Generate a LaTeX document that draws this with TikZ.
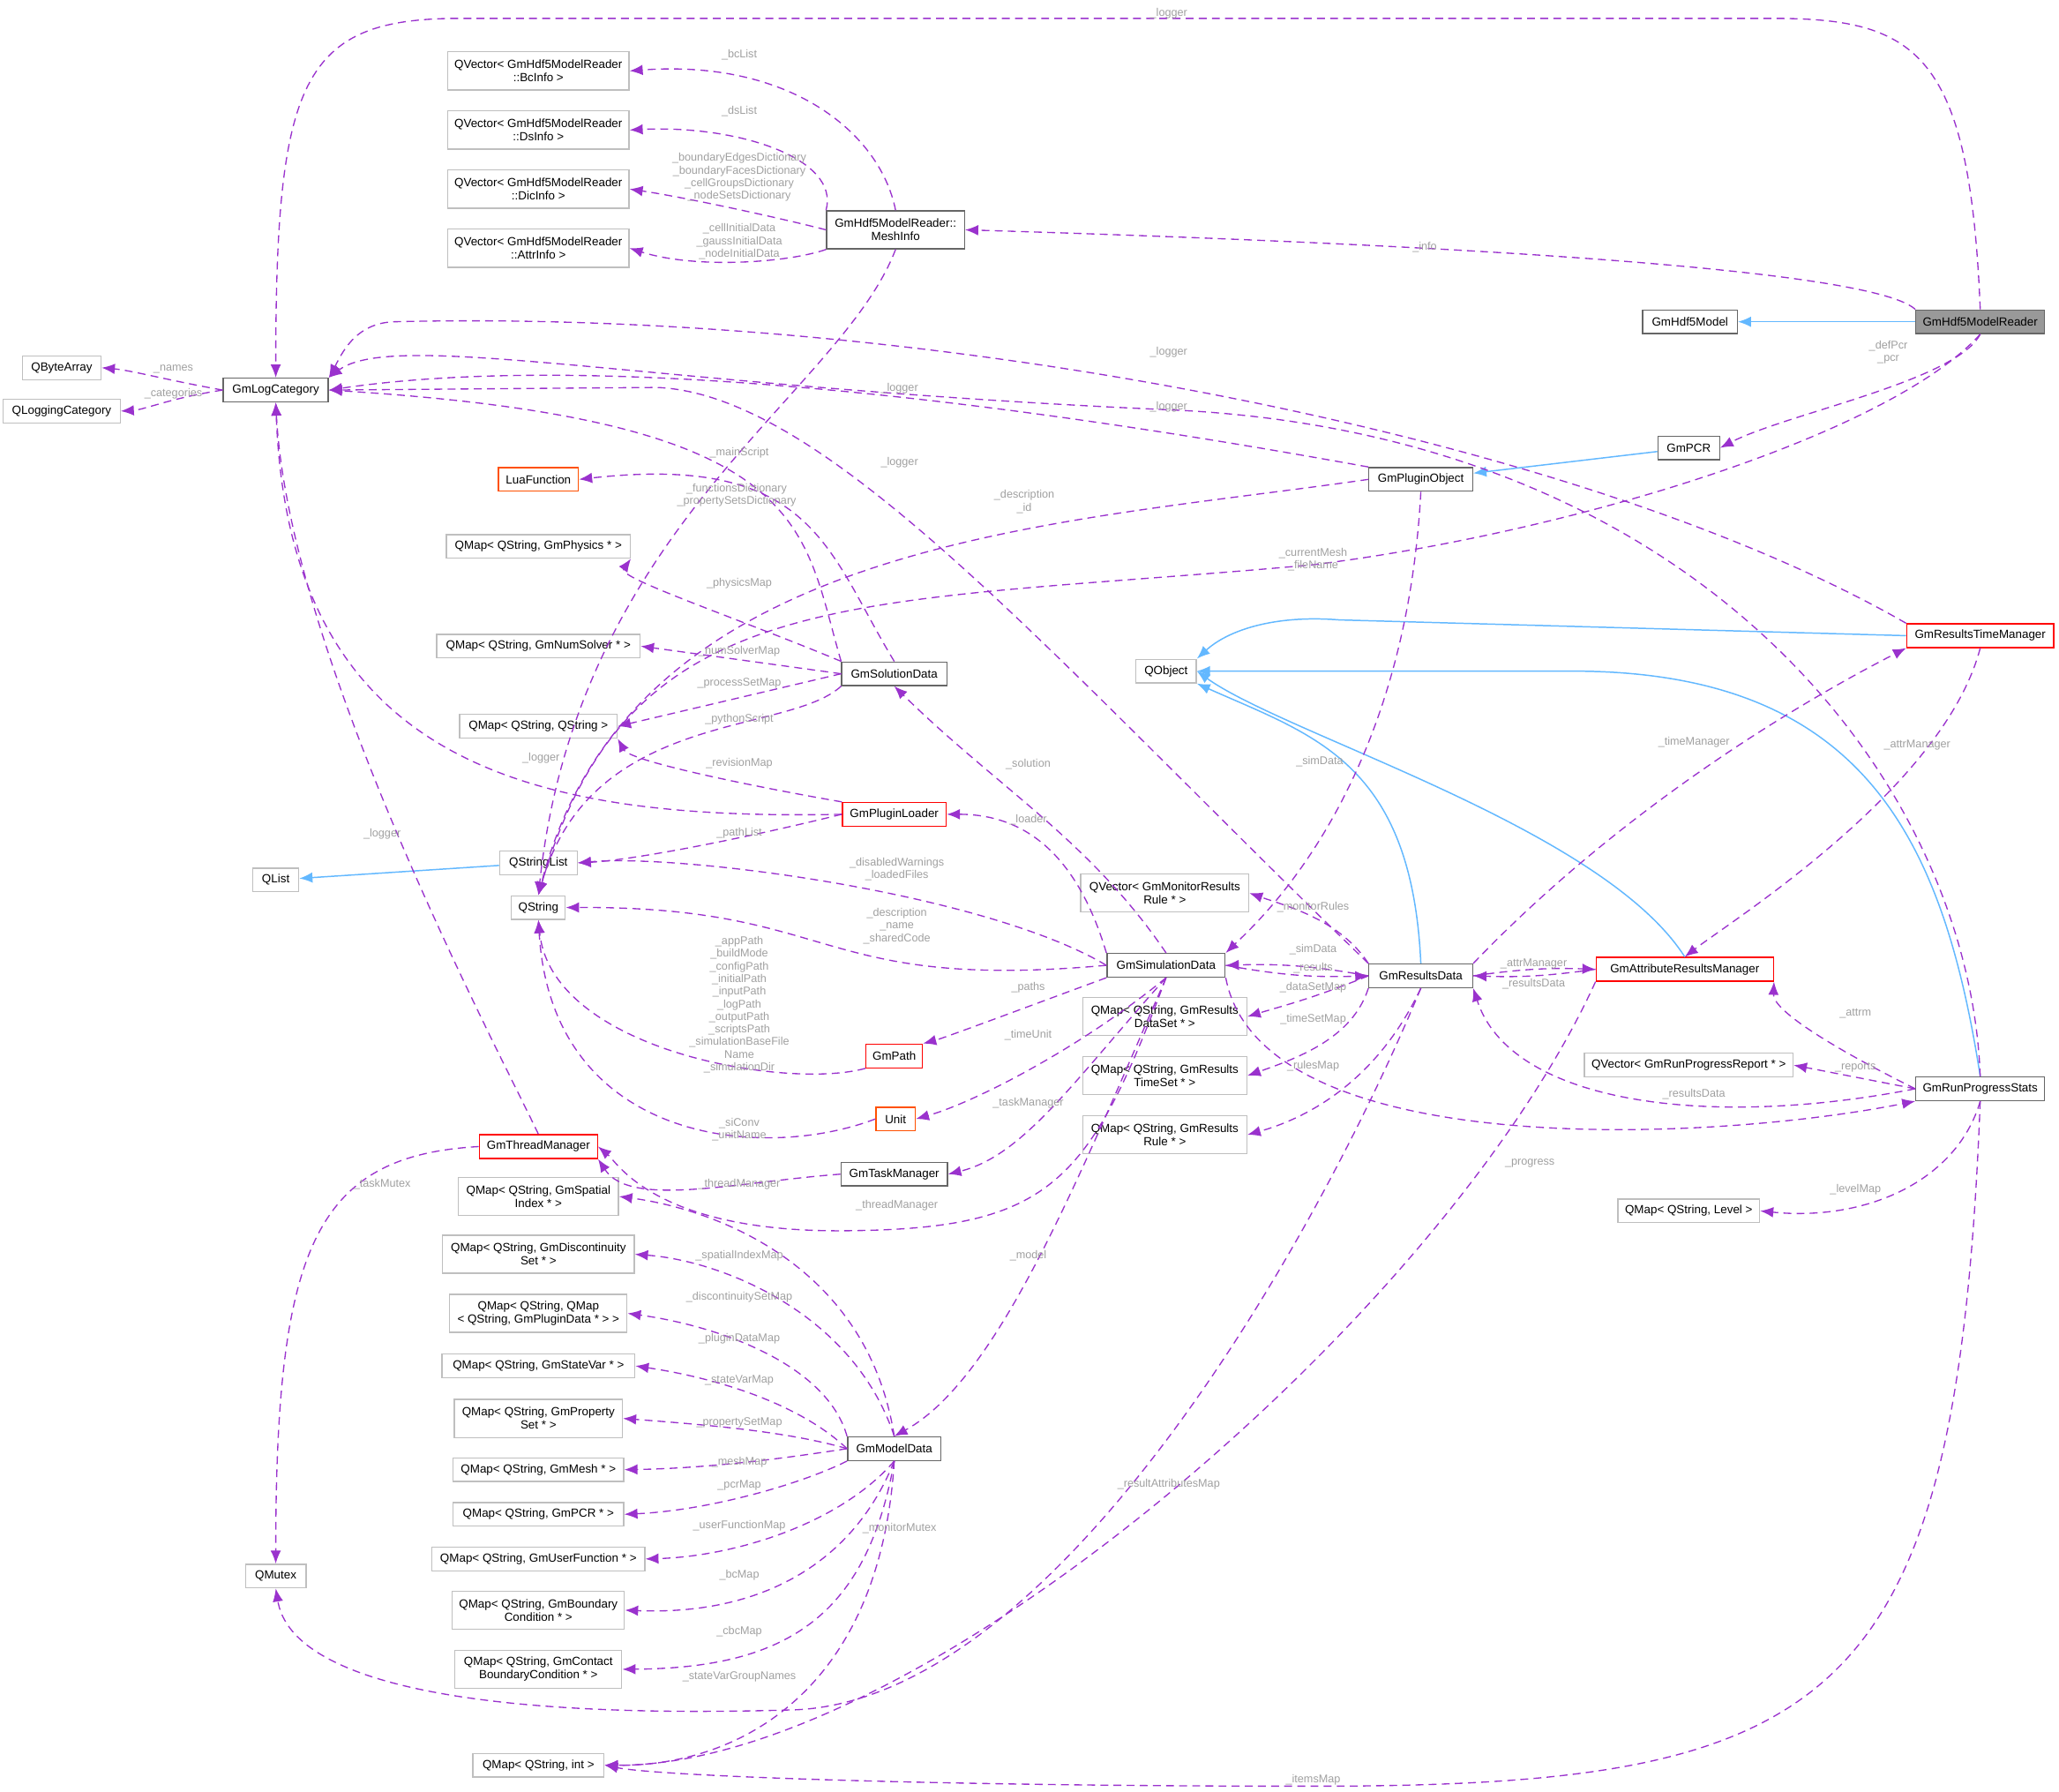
\documentclass[tikz,border=0pt]{standalone}
\usepackage{fontspec}
\setmainfont{Liberation Sans}
\usetikzlibrary{arrows.meta}
\definecolor{dep}{RGB}{154,50,205}
\definecolor{inh}{RGB}{99,184,255}
\definecolor{lblc}{RGB}{160,160,160}
\definecolor{bdr}{RGB}{102,102,102}
\definecolor{bdd}{RGB}{191,191,191}
\definecolor{redb}{RGB}{255,0,0}
\definecolor{orb}{RGB}{255,80,0}
\begin{document}
\begin{tikzpicture}[x=1pt,y=-1pt,
 every node/.style={font=\fontsize{9}{10}\selectfont, align=center, inner sep=1pt},
 box/.style={draw=bdr, fill=white, minimum height=18, line width=0.9pt},
 ext/.style={draw=bdd, fill=white, minimum height=18, line width=0.9pt},
 two/.style={minimum height=29},
 red/.style={draw=redb, fill=white, minimum height=18, line width=0.9pt},
 org/.style={draw=orb, fill=white, minimum height=18, line width=0.9pt},
 dp/.style={draw=dep, dashed, dash pattern=on 6pt off 4pt, line width=0.9pt, -{Latex[length=10,width=8]}},
 ih/.style={draw=inh, line width=1pt, -{Latex[length=10,width=8]}},
 lb/.style={text=lblc, font=\fontsize{8.5}{9.6}\selectfont}]
\useasboundingbox (0,0) rectangle (1568,1364);
% nodes
\node[box, fill={rgb,255:red,153;green,153;blue,153}, minimum width=98] (R) at (1508,245) {GmHdf5ModelReader};
\node[box, minimum width=72] (HM) at (1287,245) {GmHdf5Model};
\node[box, minimum width=47] (PCR) at (1286,341) {GmPCR};
\node[box, minimum width=79] (PO) at (1082,365) {GmPluginObject};
\node[red, minimum width=112] (RTM) at (1508,484) {GmResultsTimeManager};
\node[ext, minimum width=46] (QO) at (888,511) {QObject};
\node[box, two, minimum width=105] (MI) at (682,175) {GmHdf5ModelReader::\\MeshInfo};
\node[ext, two, minimum width=138] (BC) at (410,54) {QVector< GmHdf5ModelReader\\::BcInfo >};
\node[ext, two, minimum width=138] (DS) at (410,99) {QVector< GmHdf5ModelReader\\::DsInfo >};
\node[ext, two, minimum width=138] (DIC) at (410,144) {QVector< GmHdf5ModelReader\\::DicInfo >};
\node[ext, two, minimum width=138] (AT) at (410,189) {QVector< GmHdf5ModelReader\\::AttrInfo >};
\node[ext, minimum width=60] (QBA) at (47,280) {QByteArray};
\node[ext, minimum width=89] (QLC) at (47,313) {QLoggingCategory};
\node[box, minimum width=80] (LC) at (210,297) {GmLogCategory};
\node[org, minimum width=61] (LUA) at (410,365) {LuaFunction};
\node[ext, minimum width=140] (PHY) at (410,416) {QMap< QString, GmPhysics * >};
\node[ext, minimum width=155] (NS) at (410,492) {QMap< QString, GmNumSolver * >};
\node[box, minimum width=80] (SOL) at (681,513) {GmSolutionData};
\node[ext, minimum width=120] (QQ) at (410,553) {QMap< QString, QString >};
\node[red, minimum width=79] (PL) at (681,620) {GmPluginLoader};
\node[ext, minimum width=35] (QL) at (210,670) {QList};
\node[ext, minimum width=59] (QSL) at (410,657) {QStringList};
\node[ext, minimum width=41] (QS) at (410,691) {QString};
\node[ext, two, minimum width=128] (MON) at (887,680) {QVector< GmMonitorResults\\Rule * >};
\node[box, minimum width=90] (SD) at (888,735) {GmSimulationData};
\node[box, minimum width=79] (RD) at (1082,743) {GmResultsData};
\node[red, minimum width=135] (ARM) at (1283,738) {GmAttributeResultsManager};
\node[ext, two, minimum width=125] (DSET) at (887,774) {QMap< QString, GmResults\\DataSet * >};
\node[ext, two, minimum width=125] (TSET) at (887,819) {QMap< QString, GmResults\\TimeSet * >};
\node[ext, two, minimum width=125] (RULE) at (887,864) {QMap< QString, GmResults\\Rule * >};
\node[ext, minimum width=159] (REP) at (1286,811) {QVector< GmRunProgressReport * >};
\node[box, minimum width=98] (RPS) at (1508,829) {GmRunProgressStats};
\node[ext, minimum width=108] (LV) at (1286,922) {QMap< QString, Level >};
\node[red, minimum width=43] (GP) at (681,804) {GmPath};
\node[org, minimum width=30] (UN) at (682,852) {Unit};
\node[box, minimum width=81] (TM) at (681,894) {GmTaskManager};
\node[red, minimum width=90] (THR) at (410,873) {GmThreadManager};
\node[ext, two, minimum width=122] (SPI) at (410,911) {QMap< QString, GmSpatial\\Index * >};
\node[ext, two, minimum width=146] (DIS) at (410,955) {QMap< QString, GmDiscontinuity\\Set * >};
\node[ext, two, minimum width=135] (PD) at (410,1000) {QMap< QString, QMap\\< QString, GmPluginData * > >};
\node[ext, minimum width=147] (SV) at (410,1040) {QMap< QString, GmStateVar * >};
\node[ext, two, minimum width=128] (PS) at (410,1080) {QMap< QString, GmProperty\\Set * >};
\node[ext, minimum width=130] (ME) at (410,1119) {QMap< QString, GmMesh * >};
\node[ext, minimum width=130] (PCM) at (410,1153) {QMap< QString, GmPCR * >};
\node[ext, minimum width=162] (UF) at (410,1187) {QMap< QString, GmUserFunction * >};
\node[ext, two, minimum width=131] (BCM) at (410,1226) {QMap< QString, GmBoundary\\Condition * >};
\node[ext, two, minimum width=127] (CBC) at (410,1271) {QMap< QString, GmContact\\BoundaryCondition * >};
\node[ext, minimum width=100] (QI) at (410,1344) {QMap< QString, int >};
\node[ext, minimum width=46] (QM) at (210,1200) {QMutex};
\node[box, minimum width=71] (MD) at (681,1103) {GmModelData};
% inheritance
\draw[ih] (R) -- (HM);
\draw[ih] (PCR) -- (PO);
\draw[ih] (QSL) -- (QL);
\draw[ih] (RTM.west) -- (1020,472) .. controls (970,468) and (935,480) .. (QO.north east);
\draw[ih] (RD.north) .. controls (1075,580) and (1000,560) .. (QO.south east);
\draw[ih] (ARM.north) .. controls (1220,630) and (980,560) .. (QO.east);
\draw[ih] (RPS.north) .. controls (1480,640) and (1420,512) .. (1200,511) -- (QO.east);
% reader
\draw[dp] (R.north) .. controls (1500,40) and (1460,14) .. (1350,14) -- (350,14) .. controls (230,14) and (210,60) .. (LC.north);
\draw[dp] (R.north west) .. controls (1420,200) and (1000,183) .. (MI.east);
\draw[dp] (R.south) .. controls (1490,290) and (1360,315) .. (PCR.east);
\draw[dp] (R.south) .. controls (1440,330) and (1200,405) .. (1000,430) .. controls (650,462) and (480,440) .. (QS.north);
% meshinfo
\draw[dp] (MI.north) .. controls (670,100) and (600,45) .. (BC.east);
\draw[dp] (MI.north west) .. controls (640,120) and (560,95) .. (DS.east);
\draw[dp] (MI.west) .. controls (590,165) and (520,150) .. (DIC.east);
\draw[dp] (MI.south west) .. controls (600,200) and (530,205) .. (AT.east);
\draw[dp] (MI.south) .. controls (640,300) and (440,400) .. (QS.north);
% logcategory
\draw[dp] (LC.west) .. controls (130,290) and (100,282) .. (QBA.east);
\draw[dp] (LC.west) .. controls (130,303) and (110,312) .. (QLC.east);
% plugin object
\draw[dp] (PO.north west) .. controls (900,330) and (500,260) .. (LC.east);
\draw[dp] (PO.west) .. controls (800,400) and (480,410) .. (QS.north);
\draw[dp] (PO.south) .. controls (1070,600) and (960,700) .. (SD.north east);
% RTM
\draw[dp] (RTM.north west) .. controls (1200,330) and (700,235) .. (300,245) .. controls (270,246) and (260,270) .. (LC.north east);
\draw[dp] (RTM.south) .. controls (1480,600) and (1320,700) .. (ARM.north);
% solution
\draw[dp] (SOL.north west) .. controls (610,400) and (620,320) .. (LC.east);
\draw[dp] (SOL.north) .. controls (630,420) and (620,345) .. (LUA.east);
\draw[dp] (SOL.north west) .. controls (560,470) and (470,440) .. (PHY.south east);
\draw[dp] (SOL.west) -- (NS.east);
\draw[dp] (SOL.west) -- (QQ.east);
\draw[dp] (SOL.south west) .. controls (600,560) and (450,540) .. (QS.north);
% plugin loader
\draw[dp] (PL.west) .. controls (400,625) and (220,580) .. (LC.south);
\draw[dp] (PL.north west) .. controls (580,600) and (480,580) .. (QQ.south east);
\draw[dp] (PL.west) .. controls (560,640) and (480,655) .. (QSL.east);
% simulation data
\draw[dp] (SD.north) .. controls (830,640) and (760,600) .. (SOL.south);
\draw[dp] (SD.north west) .. controls (820,650) and (780,620) .. (PL.east);
\draw[dp] (SD.west) .. controls (750,680) and (520,650) .. (QSL.east);
\draw[dp] (SD.west) .. controls (620,755) and (640,690) .. (QS.east);
\draw[dp] (SD.south west) .. controls (800,760) and (720,790) .. (GP.north east);
\draw[dp] (SD.south) .. controls (820,800) and (740,840) .. (UN.east);
\draw[dp] (SD.south) .. controls (820,820) and (780,880) .. (TM.east);
\draw[dp] (SD.south) .. controls (830,900) and (800,935) .. (650,937) .. controls (500,940) and (470,885) .. (THR.east);
\draw[dp] (SD.south) .. controls (820,900) and (760,1050) .. (MD.north);
\draw[dp] (SD.east) to[bend right=6] (RD.west);
\draw[dp] (RD.west) to[bend right=6] (SD.east);
\draw[dp] (SD.south east) .. controls (960,885) and (1300,870) .. (RPS.south west);
% results data
\draw[dp] (RD.north west) .. controls (1020,700) and (980,690) .. (MON.east);
\draw[dp] (RD.west) .. controls (1000,760) and (980,765) .. (DSET.east);
\draw[dp] (RD.south west) .. controls (1030,790) and (990,805) .. (TSET.east);
\draw[dp] (RD.south) .. controls (1050,820) and (1000,850) .. (RULE.east);
\draw[dp] (RD.east) to[bend left=5] (ARM.west);
\draw[dp] (ARM.west) to[bend left=5] (RD.east);
\draw[dp] (RD.north west) .. controls (800,500) and (630,300) .. (500,295) -- (LC.east);
\draw[dp] (RD.north east) .. controls (1250,600) and (1400,520) .. (RTM.south west);
\draw[dp] (RD.south) .. controls (1000,950) and (800,1300) .. (600,1302) .. controls (320,1310) and (220,1270) .. (QM.south);
% ARM
\draw[dp] (ARM.south west) .. controls (1100,1000) and (700,1345) .. (QI.east);
% RPS
\draw[dp] (RPS.west) .. controls (1400,800) and (1350,770) .. (ARM.south east);
\draw[dp] (RPS.west) -- (REP.east);
\draw[dp] (RPS.west) .. controls (1300,860) and (1150,840) .. (RD.south east);
\draw[dp] (RPS.south) .. controls (1490,900) and (1420,930) .. (LV.east);
\draw[dp] (RPS.south) .. controls (1490,1300) and (1400,1360) .. (1000,1360) .. controls (700,1360) and (500,1352) .. (QI.east);
\draw[dp] (RPS.north) .. controls (1500,600) and (1300,330) .. (890,312) .. controls (500,295) and (300,250) .. (LC.north east);
% others
\draw[dp] (GP.south west) .. controls (600,830) and (420,800) .. (QS.south);
\draw[dp] (UN.west) .. controls (580,885) and (420,870) .. (QS.south);
\draw[dp] (TM.west) .. controls (560,900) and (480,920) .. (THR.south east);
\draw[dp] (THR.north) .. controls (380,800) and (220,500) .. (LC.south);
\draw[dp] (THR.west) .. controls (240,880) and (210,950) .. (QM.north);
% model data
\draw[dp] (MD.north) .. controls (660,960) and (540,920) .. (SPI.east);
\draw[dp] (MD.north) .. controls (650,1000) and (550,960) .. (DIS.east);
\draw[dp] (MD.north west) .. controls (630,1040) and (550,1010) .. (PD.east);
\draw[dp] (MD.west) .. controls (610,1070) and (550,1050) .. (SV.east);
\draw[dp] (MD.west) .. controls (600,1090) and (540,1085) .. (PS.east);
\draw[dp] (MD.west) .. controls (600,1110) and (540,1118) .. (ME.east);
\draw[dp] (MD.south west) .. controls (610,1130) and (540,1150) .. (PCM.east);
\draw[dp] (MD.south) .. controls (640,1160) and (560,1185) .. (UF.east);
\draw[dp] (MD.south) .. controls (650,1190) and (580,1230) .. (BCM.east);
\draw[dp] (MD.south) .. controls (660,1230) and (600,1270) .. (CBC.east);
\draw[dp] (MD.south) .. controls (670,1290) and (560,1345) .. (QI.east);
% labels
\node[lb] (l1) at (890,10) {\_logger};
\node[lb] (l2) at (1085,188) {\_info};
\node[lb] (l3) at (1438,268) {\_defPcr\\\_pcr};
\node[lb] (l4) at (1000,426) {\_currentMesh\\\_fileName};
\node[lb] (l5) at (563,42) {\_bcList};
\node[lb] (l6) at (563,85) {\_dsList};
\node[lb] (l7) at (563,135) {\_boundaryEdgesDictionary\\\_boundaryFacesDictionary\\\_cellGroupsDictionary\\\_nodeSetsDictionary};
\node[lb] (l8) at (563,184) {\_cellInitialData\\\_gaussInitialData\\\_nodeInitialData};
\node[lb] (l9) at (561,377) {\_functionsDictionary\\\_propertySetsDictionary};
\node[lb] (l10) at (132,281) {\_names};
\node[lb] (l11) at (132,300) {\_categories};
\node[lb] (l12) at (685,296) {\_logger};
\node[lb] (l13) at (780,382) {\_description\\\_id};
\node[lb] (l14) at (1005,580) {\_simData};
\node[lb] (l15) at (890,268) {\_logger};
\node[lb] (l16) at (1460,567) {\_attrManager};
\node[lb] (l17) at (563,345) {\_mainScript};
\node[lb] (l18) at (563,444) {\_physicsMap};
\node[lb] (l19) at (563,496) {\_numSolverMap};
\node[lb] (l20) at (563,520) {\_processSetMap};
\node[lb] (l21) at (563,548) {\_pythonScript};
\node[lb] (l22) at (412,577) {\_logger};
\node[lb] (l23) at (563,581) {\_revisionMap};
\node[lb] (l24) at (563,634) {\_pathList};
\node[lb] (l25) at (783,582) {\_solution};
\node[lb] (l26) at (783,624) {\_loader};
\node[lb] (l27) at (683,662) {\_disabledWarnings\\\_loadedFiles};
\node[lb] (l28) at (683,705) {\_description\\\_name\\\_sharedCode};
\node[lb] (l29) at (783,752) {\_paths};
\node[lb] (l30) at (783,788) {\_timeUnit};
\node[lb] (l31) at (783,840) {\_taskManager};
\node[lb] (l32) at (683,918) {\_threadManager};
\node[lb] (l33) at (783,956) {\_model};
\node[lb] (l34) at (1000,737) {\_results};
\node[lb] (l35) at (1000,723) {\_simData};
\node[lb] (l36) at (1165,886) {\_progress};
\node[lb] (l37) at (1000,691) {\_monitorRules};
\node[lb] (l38) at (1000,752) {\_dataSetMap};
\node[lb] (l39) at (1000,776) {\_timeSetMap};
\node[lb] (l40) at (1000,812) {\_rulesMap};
\node[lb] (l41) at (1168,734) {\_attrManager};
\node[lb] (l42) at (1168,749) {\_resultsData};
\node[lb] (l43) at (685,352) {\_logger};
\node[lb] (l44) at (1290,565) {\_timeManager};
\node[lb] (l45) at (685,1164) {\_monitorMutex};
\node[lb] (l46) at (890,1130) {\_resultAttributesMap};
\node[lb] (l47) at (1413,772) {\_attrm};
\node[lb] (l48) at (1413,813) {\_reports};
\node[lb] (l49) at (1290,833) {\_resultsData};
\node[lb] (l50) at (1413,906) {\_levelMap};
\node[lb] (l51) at (1000,1355) {\_itemsMap};
\node[lb] (l52) at (890,310) {\_logger};
\node[lb] (l53) at (563,765) {\_appPath\\\_buildMode\\\_configPath\\\_initialPath\\\_inputPath\\\_logPath\\\_outputPath\\\_scriptsPath\\\_simulationBaseFile\\Name\\\_simulationDir};
\node[lb] (l54) at (563,860) {\_siConv\\\_unitName};
\node[lb] (l55) at (563,902) {\_threadManager};
\node[lb] (l56) at (291,635) {\_logger};
\node[lb] (l57) at (291,902) {\_taskMutex};
\node[lb] (l58) at (563,956) {\_spatialIndexMap};
\node[lb] (l59) at (563,988) {\_discontinuitySetMap};
\node[lb] (l60) at (563,1019) {\_pluginDataMap};
\node[lb] (l61) at (563,1051) {\_stateVarMap};
\node[lb] (l62) at (563,1083) {\_propertySetMap};
\node[lb] (l63) at (563,1113) {\_meshMap};
\node[lb] (l64) at (563,1131) {\_pcrMap};
\node[lb] (l65) at (563,1162) {\_userFunctionMap};
\node[lb] (l66) at (563,1199) {\_bcMap};
\node[lb] (l67) at (563,1242) {\_cbcMap};
\node[lb] (l68) at (563,1277) {\_stateVarGroupNames};
\end{tikzpicture}
\end{document}
